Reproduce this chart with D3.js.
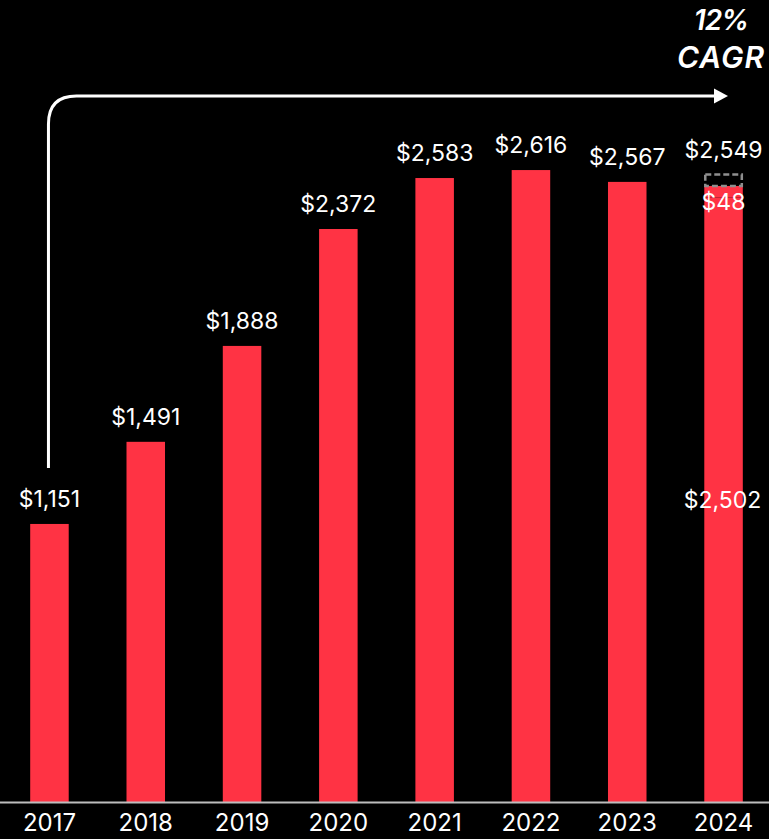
<!DOCTYPE html>
<html>
<head>
<meta charset="utf-8">
<script src="https://cdn.jsdelivr.net/npm/d3@7"></script>
<style>
  html, body { margin: 0; padding: 0; background: #000; }
  svg { display: block; }
</style>
</head>
<body>
<script>
// Annual values (in $) by year
const years = ["2017", "2018", "2019", "2020", "2021", "2022", "2023", "2024"];
const totals = [1151, 1491, 1888, 2372, 2583, 2616, 2567, 2549];
const valueLabels = ["$1,151", "$1,491", "$1,888", "$2,372", "$2,583", "$2,616", "$2,567", "$2,549"];
// 2024 split: base amount plus increment
const split2024 = [2502, 48];
const splitLabels2024 = ["$2,502", "$48"];
const cagrLines = ["12%", "CAGR"];

const W = 769, H = 839;
const RED = "#ff3344";
const FONT = "Inter, 'Noto Sans', sans-serif";

const svg = d3.select("body").append("svg")
  .attr("width", W).attr("height", H)
  .style("background", "#000");

const x = d3.scaleBand()
  .domain(years)
  .range([1.5, 771.5])
  .paddingInner(0.6)
  .paddingOuter(0.298);

const y = d3.scaleLinear().domain([0, 3320]).range([802, 0]);

// Bars for 2017–2023
const plain = years.slice(0, 7).map((yr, i) => ({ yr, v: totals[i], label: valueLabels[i] }));
svg.append("g").selectAll("rect").data(plain).join("rect")
  .attr("x", d => x(d.yr))
  .attr("width", x.bandwidth())
  .attr("y", d => y(d.v))
  .attr("height", d => y(0) - y(d.v))
  .attr("fill", RED);

// 2024 stacked bar
const last = years[7];
const stack = [
  { y0: 0, y1: split2024[0] },
  { y0: split2024[0], y1: split2024[0] + split2024[1] }
];
svg.append("g").selectAll("rect").data(stack).join("rect")
  .attr("x", x(last))
  .attr("width", x.bandwidth())
  .attr("y", d => y(d.y1))
  .attr("height", d => y(d.y0) - y(d.y1))
  .attr("fill", RED);

// Dashed outline for the increment
const top2024 = split2024[0] + split2024[1];
svg.append("rect")
  .attr("x", x(last) + 1)
  .attr("width", x.bandwidth() - 2)
  .attr("y", y(top2024 + split2024[1]))
  .attr("height", y(top2024) - y(top2024 + split2024[1]))
  .attr("fill", "none")
  .attr("stroke", "#8f8f8f")
  .attr("stroke-width", 2.5)
  .attr("stroke-dasharray", "6,3");

// Value labels above bars
svg.append("g").selectAll("text").data(plain).join("text")
  .attr("x", d => x(d.yr) + x.bandwidth() / 2)
  .attr("y", d => y(d.v) - 17)
  .attr("text-anchor", "middle")
  .attr("fill", "#fff")
  .style("font-family", FONT)
  .style("font-size", "23px")
  .text(d => d.label);

const cx24 = x(last) + x.bandwidth() / 2;
svg.append("text")
  .attr("x", cx24)
  .attr("y", y(top2024 + split2024[1]) - 16)
  .attr("text-anchor", "middle")
  .attr("fill", "#fff")
  .style("font-family", FONT)
  .style("font-size", "23px")
  .text(valueLabels[7]);

svg.append("text")
  .attr("x", cx24)
  .attr("y", y(top2024) + 24)
  .attr("text-anchor", "middle")
  .attr("fill", "#fff")
  .style("font-family", FONT)
  .style("font-size", "23px")
  .text(splitLabels2024[1]);

svg.append("text")
  .attr("x", cx24 - 1)
  .attr("y", (y(0) + y(split2024[0])) / 2)
  .attr("dy", "0.35em")
  .attr("text-anchor", "middle")
  .attr("fill", "#fff")
  .style("font-family", FONT)
  .style("font-size", "23px")
  .text(splitLabels2024[0]);

// Baseline and year axis
const axis = svg.append("g")
  .attr("transform", `translate(0,${y(0)})`)
  .call(d3.axisBottom(x).tickSize(0).tickPadding(29));
axis.select(".domain")
  .attr("d", `M0,0.5H${W}`)
  .attr("stroke", "#bdbdbd")
  .attr("stroke-width", 2);
axis.selectAll("text")
  .attr("fill", "#fff")
  .attr("dy", "0")
  .style("font-family", FONT)
  .style("font-size", "24px");

// Growth arrow
const ax = x(years[0]) + x.bandwidth() / 2 - 1;
const ay = 96, r = 28, axEnd = 716;
svg.append("path")
  .attr("d", `M${ax},468 V${ay + r} Q${ax},${ay} ${ax + r},${ay} H${axEnd}`)
  .attr("fill", "none")
  .attr("stroke", "#fff")
  .attr("stroke-width", 3);
svg.append("path")
  .attr("d", `M${axEnd - 2},${ay - 7.5} L${axEnd + 12},${ay} L${axEnd - 2},${ay + 7.5} Z`)
  .attr("fill", "#fff");

// CAGR callout
svg.append("g").selectAll("text").data(cagrLines).join("text")
  .attr("x", 721)
  .attr("y", (d, i) => i === 0 ? 30 : 68)
  .attr("text-anchor", "middle")
  .attr("fill", "#fff")
  .style("font-family", FONT)
  .style("font-size", (d, i) => i === 0 ? "28px" : "30px")
  .style("font-weight", 600)
  .style("font-style", "italic")
  .style("letter-spacing", (d, i) => i === 0 ? "-1px" : "1px")
  .text(d => d);
</script>
</body>
</html>
